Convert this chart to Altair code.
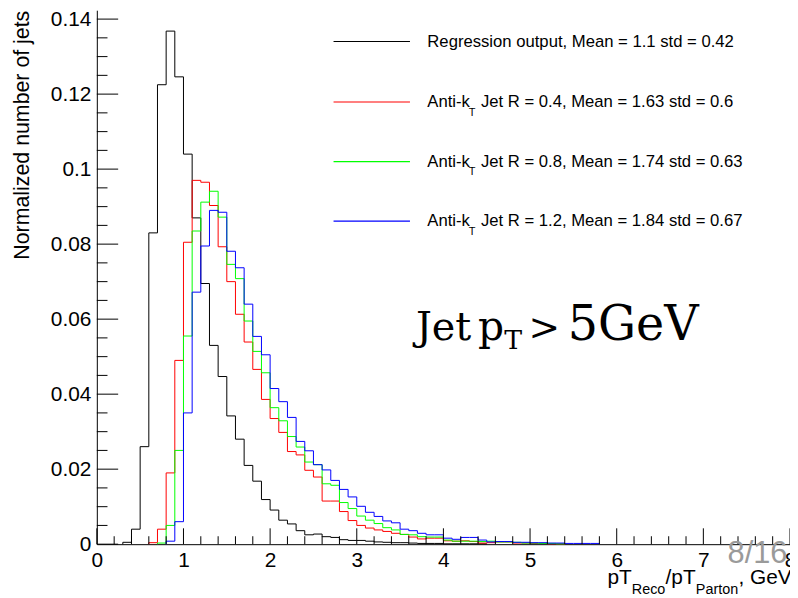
import altair as alt
import pandas as pd

# ---------------- data ----------------
bin_width = 0.1

legend_main = ["Regression output, Mean = 1.1 std = 0.42", "Anti-k", "Anti-k", "Anti-k"]
legend_sub = ["", "T", "T", "T"]
legend_rest = ["", "Jet R = 0.4, Mean = 1.63 std = 0.6",
               "Jet R = 0.8, Mean = 1.74 std = 0.63",
               "Jet R = 1.2, Mean = 1.84 std = 0.67"]
series_colors = ["#000000", "#ff0000", "#00ff00", "#0000ff"]

# bin contents, first entry = bin [0.0, 0.1)
regression = [0, 0, 0, 0.0005, 0.004, 0.026, 0.083, 0.1225, 0.1368, 0.1246,
              0.104, 0.087, 0.0695, 0.053, 0.0447, 0.0342, 0.028, 0.021, 0.0168, 0.0119,
              0.0091, 0.0064, 0.0054, 0.0036, 0.0025, 0.0027, 0.002, 0.0018, 0.0012, 0.001,
              0.001, 0.0008, 0.0006, 0.0005, 0.0004, 0.0004, 0.0003, 0.0002, 0.0002, 0.0002,
              0.0001, 0.0001, 0.0001, 0.0001, 0.0001]
antikt_04 = [0, 0, 0, 0, 0, 0, 0.0004, 0.004, 0.019, 0.049,
             0.0805, 0.097, 0.0965, 0.0903, 0.0793, 0.070, 0.0613, 0.0539, 0.0466, 0.0386,
             0.0335, 0.0298, 0.0247, 0.0238, 0.0197, 0.0179, 0.0115, 0.0115, 0.0087, 0.0063,
             0.005, 0.0043, 0.0038, 0.0034, 0.0029, 0.0026, 0.0019, 0.0014, 0.0016, 0.0016,
             0.0009, 0.0008, 0.0009, 0.0007, 0.0003, 0.0004, 0.0006, 0.0006, 0.0003, 0.0003,
             0.0002, 0.0002, 0.0001, 0.0001]
antikt_08 = [0, 0, 0, 0, 0, 0, 0, 0.0003, 0.005, 0.025,
             0.0555, 0.0835, 0.0912, 0.0941, 0.0872, 0.0746, 0.0708, 0.0595, 0.0514, 0.0457,
             0.0364, 0.0329, 0.0287, 0.0259, 0.0219, 0.0212, 0.0161, 0.0157, 0.0111, 0.0095,
             0.0075, 0.0064, 0.0055, 0.0044, 0.0038, 0.0026, 0.0025, 0.002, 0.0019, 0.0019,
             0.0011, 0.0008, 0.0008, 0.0008, 0.0007, 0.0008, 0.0006, 0.0006, 0.0005, 0.0003,
             0.0003, 0.0002, 0.0002, 0.0001]
antikt_12 = [0, 0, 0, 0, 0, 0, 0, 0, 0.0008, 0.006,
             0.035, 0.0672, 0.0795, 0.089, 0.0885, 0.0781, 0.0737, 0.064, 0.0554, 0.0505,
             0.0415, 0.038, 0.0338, 0.0274, 0.0249, 0.0212, 0.0198, 0.017, 0.0146, 0.0126,
             0.0101, 0.0085, 0.0074, 0.0062, 0.0057, 0.004, 0.0036, 0.0029, 0.0025, 0.0025,
             0.0016, 0.0013, 0.0018, 0.0018, 0.0011, 0.0006, 0.0007, 0.0007, 0.0005, 0.0005,
             0.0004, 0.0004, 0.0003, 0.0003, 0.0002, 0.0002, 0.0002, 0.0002]
all_series = [regression, antikt_04, antikt_08, antikt_12]

x_major = [0, 1, 2, 3, 4, 5, 6, 7, 8]
y_major = [0, 0.02, 0.04, 0.06, 0.08, 0.1, 0.12, 0.14]
x_minor = [round(0.2 * i, 1) for i in range(41) if i % 5]
y_minor = [round(0.005 * i, 3) for i in range(29) if i % 4]

# ---------------- layout ----------------
W, H = 698.4, 538
xscale = alt.Scale(domain=[0, 8], nice=False, zero=False)
yscale = alt.Scale(domain=[0, 0.14237], nice=False, zero=False)
FONT = "Liberation Sans"
SERIF = "DejaVu Serif"

xaxis = alt.Axis(values=x_major, format="d", ticks=False, tickSize=0, grid=False,
                 domain=True, domainColor="black", domainWidth=1, labelFont=FONT,
                 labelFontSize=21, labelColor="black", labelPadding=22,
                 labelBaseline="alphabetic", labelFlush=False, labelOverlap=False, title=None)
yaxis = alt.Axis(values=y_major, format="~g", ticks=False, tickSize=0, grid=False,
                 domain=True, domainColor="black", domainWidth=1, labelFont=FONT,
                 labelFontSize=21, labelColor="black", labelPadding=6, labelBaseline="middle",
                 labelOverlap=False, labelFlush=False,
                 title="Normalized number of jets", titleFont=FONT, titleFontSize=21.5,
                 titleFontWeight="normal", titleColor="black", titleAngle=270,
                 titleAlign="right", titleBaseline="alphabetic", titleX=-69, titleY=0)


def hist_points(vals):
    idx = [k for k, v in enumerate(vals) if v > 0]
    f, l = idx[0], idx[-1]
    pts = [(f * bin_width, 0.0)]
    pts += [(k * bin_width, vals[k]) for k in range(f, l + 1)]
    pts += [((l + 1) * bin_width, vals[l]), ((l + 1) * bin_width, 0.0)]
    return pd.DataFrame({"x": [p[0] for p in pts], "y": [p[1] for p in pts],
                         "i": list(range(len(pts)))})


layers = []
for vals, col in zip(all_series, series_colors):
    layers.append(
        alt.Chart(hist_points(vals)).mark_line(interpolate="step-after", color=col,
                                               strokeWidth=1).encode(
            x=alt.X("x:Q", scale=xscale, axis=xaxis),
            y=alt.Y("y:Q", scale=yscale, axis=yaxis),
            order="i:Q"))


# inward ticks (ROOT style)
def xticks(vals, length):
    return alt.Chart(pd.DataFrame({"x": vals})).mark_rule(color="black", strokeWidth=1).encode(
        x=alt.X("x:Q", scale=xscale, axis=xaxis), y=alt.value(H), y2=alt.value(H - length))


def yticks(vals, length):
    return alt.Chart(pd.DataFrame({"y": vals})).mark_rule(color="black", strokeWidth=1).encode(
        y=alt.Y("y:Q", scale=yscale, axis=yaxis), x=alt.value(0), x2=alt.value(length))


layers += [xticks(x_major, 16), xticks(x_minor, 8), yticks(y_major, 21.5), yticks(y_minor, 10.75)]


def txt(s, x, y, size, color="black", font=FONT, align="left"):
    return alt.Chart(pd.DataFrame({"t": [s]})).mark_text(
        font=font, fontSize=size, color=color, align=align, baseline="alphabetic").encode(
        text="t:N", x=alt.value(x), y=alt.value(y))


# x axis title with subscripts
layers += [
    txt("pT", 514.5, 578.0, 21),
    txt("Reco", 539.0, 588.5, 14.5),
    txt("/pT", 573.0, 578.0, 21),
    txt("Parton", 603.5, 588.5, 14.5),
    txt(", GeV", 646.5, 578.0, 21),
]

# annotation "Jet p_T > 5GeV"
layers += [
    txt("Jet", 321.5, 332, 40, font=SERIF),
    txt("p", 384.0, 332, 41, font=SERIF),
    txt("T", 410.5, 341, 27, font=SERIF),
    txt(">", 435.0, 332, 38, font=SERIF),
    txt("5GeV", 474.5, 332, 48, font=SERIF),
]

# slide number overlay
layers.append(txt("8/16", 635.5, 557, 31, color="#9a9a9a"))

# legend (pixel rows inside the plot area), drawn last
leg_y = [31.5, 92.5, 152.5, 212.5]
leg_x = [238.5, 315.5]
leg_lines = pd.DataFrame({
    "lx": [x for _ in leg_y for x in leg_x],
    "ly": [y for y in leg_y for _ in leg_x],
    "col": [c for c in series_colors for _ in leg_x],
    "row": [r for r in range(len(leg_y)) for _ in leg_x],
})
for r, col in enumerate(series_colors):
    layers.append(alt.Chart(leg_lines[leg_lines.row == r]).mark_line(
        strokeWidth=1.2, stroke=col, color=col).encode(
        x=alt.X("lx:Q", scale=None), y=alt.Y("ly:Q", scale=None)))

leg = pd.DataFrame({"ly": leg_y, "main": legend_main, "sub": legend_sub, "rest": legend_rest})
leg["ly_t"] = leg["ly"] + 5.2
leg["ly_s"] = leg["ly"] + 13.8
layers.append(alt.Chart(leg).mark_text(font=FONT, fontSize=16.8, align="left",
                                       baseline="alphabetic", color="black").encode(
    x=alt.value(333.0), y=alt.Y("ly_t:Q", scale=None), text="main:N"))
layers.append(alt.Chart(leg).mark_text(font=FONT, fontSize=11, align="left",
                                       baseline="alphabetic", color="black").encode(
    x=alt.value(374.8), y=alt.Y("ly_s:Q", scale=None), text="sub:N"))
layers.append(alt.Chart(leg).mark_text(font=FONT, fontSize=16.8, align="left",
                                       baseline="alphabetic", color="black").encode(
    x=alt.value(387.0), y=alt.Y("ly_t:Q", scale=None), text="rest:N"))

chart = alt.layer(*layers).properties(
    width=W, height=H,
    padding={"left": 89.5, "top": 0, "right": 0, "bottom": 52},
    autosize=alt.AutoSizeParams(type="none"),
).configure_view(stroke=None)

chart.save("out.html", embed_options={"renderer": "svg", "actions": False})
